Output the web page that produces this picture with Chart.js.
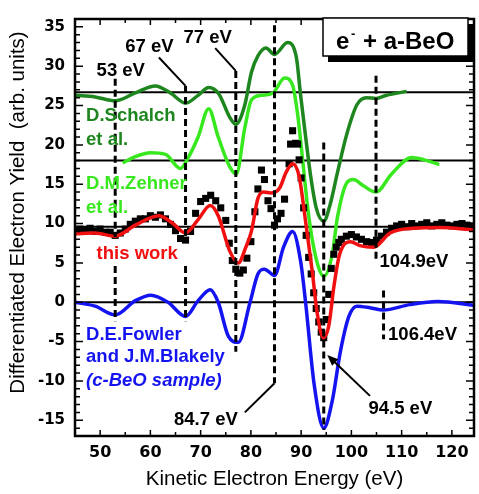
<!DOCTYPE html>
<html>
<head>
<meta charset="utf-8">
<script src="https://cdn.jsdelivr.net/npm/chart.js@4.4.1/dist/chart.umd.min.js"></script>
<style>
  html, body { margin: 0; padding: 0; background: #fff; }
  canvas { display: block; }
</style>
</head>
<body>
<canvas id="augerChart" width="479" height="494"></canvas>
<script>
// tick labels
const xTicks = [50, 60, 70, 80, 90, 100, 110, 120];
const yTicks = [-15, -10, -5, 0, 5, 10, 15, 20, 25, 30, 35];

// D.Schalch et al.
const schalchE = [45, 49, 53, 57, 61, 64, 67, 69.5, 71.6, 73.6, 75.8, 77, 78.8, 80.1, 81.4, 83, 84.7, 87.3, 89, 89.9, 90.9, 91.9, 93, 94.5, 95.8, 97.2, 99.1, 101.1, 103, 104.9, 107, 111];
const schalchY = [26.3, 26.1, 25.6, 26.6, 27.5, 26.6, 25.3, 26.3, 27.3, 26.5, 23.5, 22.6, 25.1, 29.2, 31.3, 32.3, 31.5, 33.0, 31.3, 26.3, 21.0, 16.0, 12.0, 10.3, 12.5, 16.4, 21.4, 25.1, 26.0, 25.9, 26.3, 26.8];

// D.M.Zehner et al.
const zehnerE = [54.5, 57, 60, 63, 66, 67.2, 69.5, 71.6, 73.5, 75.8, 77.1, 78.8, 80.1, 82.1, 84.4, 86.7, 88.3, 89.3, 90.3, 91.5, 93, 94.5, 96.2, 97.2, 99.1, 100.4, 102.4, 104.9, 108, 112, 114.5, 117.5];
const zehnerY = [17.7, 18.5, 19.0, 18.8, 17.0, 18.0, 21.0, 24.6, 21.0, 17.2, 16.3, 22.2, 25.7, 26.3, 26.6, 28.5, 27.6, 23.9, 18.1, 11.0, 5.5, 3.3, 6.1, 10.7, 15.2, 15.6, 14.8, 14.0, 16.3, 18.4, 18.1, 17.5];

// this work (fit)
const thisWorkE = [45, 49, 53, 57, 61.7, 64.5, 67, 69.5, 71.9, 73.5, 75.8, 77.5, 79, 80.1, 81.4, 82.5, 84, 85.7, 87, 88.3, 89.6, 90.9, 92.2, 93.2, 94.4, 95.5, 96.5, 97.5, 98.5, 99.8, 101.7, 104.4, 107.7, 112.3, 117.5, 124.4];
const thisWorkY = [8.7, 8.8, 8.4, 9.8, 11.0, 10.0, 8.8, 10.5, 12.3, 11.0, 6.5, 5.0, 7.0, 9.0, 13.2, 14.0, 13.9, 14.5, 16.5, 17.6, 16.0, 10.2, 4.0, -1.4, -4.5, -3.0, 1.9, 5.7, 7.3, 7.7, 7.2, 7.0, 8.8, 9.4, 9.5, 9.2];

// this work (measured points)
const measuredE = [45, 46, 47, 48, 49, 50, 51, 52, 53, 54, 55, 56, 57, 58, 59, 60, 61, 62, 63, 64, 65, 66, 67, 68, 69, 70, 71, 72, 73, 74, 75, 75.7, 76.3, 77, 77.8, 78.5, 79.2, 80, 80.8, 81.4, 82.1, 82.7, 83.4, 84, 84.7, 85.3, 86, 86.7, 87.6, 87.9, 88.3, 88.9, 89.3, 89.6, 90, 90.5, 91, 91.5, 92, 92.5, 93, 93.5, 94, 94.5, 95, 95.5, 96, 96.5, 97, 97.5, 98, 99, 100, 101, 102, 103, 104, 105, 106, 107, 108, 109, 110, 111, 112, 113, 114, 115, 116, 117, 118, 119, 120, 121, 122, 123, 124];
const measuredY = [9.0, 9.3, 9.1, 9.4, 9.0, 9.3, 8.9, 8.9, 8.5, 8.8, 9.3, 9.9, 10.3, 10.6, 10.6, 11.0, 10.8, 11.1, 10.6, 9.9, 9.1, 8.1, 7.9, 9.0, 11.3, 12.8, 13.2, 13.6, 12.9, 12.0, 10.4, 7.5, 5.3, 4.2, 3.7, 4.1, 5.6, 7.7, 11.5, 14.4, 16.8, 15.6, 12.9, 11.9, 9.8, 10.6, 11.3, 13.1, 17.6, 20.1, 21.8, 20.2, 20.1, 18.1, 15.8, 12.0, 8.5, 5.7, 3.6, 1.2, -0.8, -2.5, -3.8, -4.5, -2.2, 1.0, 4.3, 6.1, 7.0, 7.6, 8.0, 8.4, 8.6, 8.3, 8.0, 7.7, 7.6, 7.9, 8.4, 8.9, 9.4, 9.7, 9.9, 9.6, 10.0, 9.7, 9.9, 10.1, 9.7, 9.9, 10.1, 9.8, 9.7, 9.9, 10.0, 9.8, 9.7];

// D.E.Fowler and J.M.Blakely (c-BeO)
const fowlerE = [45, 49, 53, 57, 60.1, 63.5, 67, 69.5, 71.9, 73.5, 75.5, 77.5, 79.8, 81.4, 82.7, 84.7, 86.5, 88.3, 89.9, 90.9, 92.6, 94.5, 96.2, 97.8, 99.5, 101.1, 103.7, 106.3, 111.6, 117.2, 124.4];
const fowlerY = [0, -0.5, -1.6, 0.2, 0.9, 0.0, -1.8, 0.2, 1.6, 0.0, -4.3, -5.1, -0.1, 3.6, 4.2, 3.4, 7.0, 9.0, 5.2, -0.1, -10.5, -16.0, -12.5, -6.3, -1.8, -0.5, -0.7, -1.0, -0.3, 0.1, -0.4];

// zero levels of the offset spectra
const baselines = [0, 9.6, 18, 26.7];

// marked energies
const markerE = [53, 67, 77, 84.7, 94.5, 104.9, 106.4];
const markerText = ['53 eV', '67 eV', '77 eV', '84.7 eV', '94.5 eV', '104.9eV', '106.4eV'];

const DARK_GREEN = '#1e861e';
const LIGHT_GREEN = '#38e81e';
const RED = '#f01010';
const BLUE = '#1414f0';
const SANS = "'Liberation Sans', Arial, Helvetica, sans-serif";
const TICK_FONT = "'DejaVu Sans', sans-serif";

// where the dashed markers and their labels sit (value space)
const markerLayout = [
  { spans: [[28.4, 8.3], [4.6, -2.4]], label: [49.3, 29.4] },
  { spans: [[27.5, 8.3], [4.6, -2.4]], label: [55.0, 32.4], leader: [61.7, 31.1, 67, 27.5] },
  { spans: [[29.4, -6.3]], label: [66.6, 33.6], leader: [72.9, 32.3, 77, 29.4] },
  { spans: [[35.2, -10.3]], label: [64.7, -14.9], leader: [78.8, -14.0, 84.7, -10.3] },
  { spans: [[20.3, -16.2]], label: [103.4, -13.6], arrow: [103.7, -11.9, 95.2, -6.7] },
  { spans: [[28.8, 5.1]], label: [105.6, 5.1] },
  { spans: [[1.5, -4.7]], label: [107.3, -4.1] }
];

const seriesNotes = [
  { color: DARK_GREEN, x: 47.2, lines: [['D.Schalch', 23.7], ['et al.', 20.6]] },
  { color: LIGHT_GREEN, x: 47.2, lines: [['D.M.Zehner', 15.1], ['et al.', 12.0]] },
  { color: RED, x: 49.3, lines: [['this work', 6.1]] },
  { color: BLUE, x: 47.2, lines: [['D.E.Fowler', -4.1], ['and J.M.Blakely', -6.9], ['(c-BeO sample)', -10.0, true]] }
];

function pairs(xs, ys) {
  return xs.map((v, i) => ({ x: v, y: ys[i] }));
}

function curve(xs, ys, color) {
  return {
    data: pairs(xs, ys),
    showLine: true,
    borderColor: color,
    borderWidth: 3.5,
    pointRadius: 0,
    cubicInterpolationMode: 'monotone',
    fill: false
  };
}

const decor = {
  id: 'decor',
  beforeDatasetsDraw(chart) {
    const { ctx, chartArea: a, scales: { y } } = chart;
    ctx.save();
    ctx.strokeStyle = '#000';
    ctx.lineWidth = 2;
    baselines.forEach(v => {
      const py = y.getPixelForValue(v);
      ctx.beginPath();
      ctx.moveTo(a.left, py);
      ctx.lineTo(a.right, py);
      ctx.stroke();
    });
    ctx.restore();
  },
  afterDatasetsDraw(chart) {
    const { ctx, chartArea: a, scales: { x, y } } = chart;
    const px = v => x.getPixelForValue(v);
    const py = v => y.getPixelForValue(v);
    ctx.save();

    // dashed marker lines
    ctx.strokeStyle = '#000';
    ctx.lineWidth = 3;
    ctx.setLineDash([7, 4]);
    markerE.forEach((e, i) => {
      markerLayout[i].spans.forEach(([y0, y1]) => {
        ctx.beginPath();
        ctx.moveTo(px(e), py(y0));
        ctx.lineTo(px(e), py(y1));
        ctx.stroke();
      });
    });
    ctx.setLineDash([]);

    // leader lines and arrow
    ctx.lineWidth = 2;
    ctx.fillStyle = '#000';
    markerLayout.forEach(m => {
      if (m.leader) {
        const [x0, y0, x1, y1] = m.leader;
        ctx.beginPath();
        ctx.moveTo(px(x0), py(y0));
        ctx.lineTo(px(x1), py(y1));
        ctx.stroke();
      }
      if (m.arrow) {
        const [x0, y0, x1, y1] = m.arrow;
        const ax = px(x0), ay = py(y0), bx = px(x1), by = py(y1);
        const ang = Math.atan2(by - ay, bx - ax);
        ctx.beginPath();
        ctx.moveTo(ax, ay);
        ctx.lineTo(bx - 8 * Math.cos(ang), by - 8 * Math.sin(ang));
        ctx.stroke();
        ctx.beginPath();
        ctx.moveTo(bx, by);
        ctx.lineTo(bx - 11 * Math.cos(ang) + 4.5 * Math.sin(ang), by - 11 * Math.sin(ang) - 4.5 * Math.cos(ang));
        ctx.lineTo(bx - 11 * Math.cos(ang) - 4.5 * Math.sin(ang), by - 11 * Math.sin(ang) + 4.5 * Math.cos(ang));
        ctx.closePath();
        ctx.fill();
      }
    });

    // marker labels
    ctx.textBaseline = 'middle';
    ctx.textAlign = 'left';
    ctx.font = 'bold 18.5px ' + SANS;
    ctx.fillStyle = '#000';
    markerText.forEach((t, i) => {
      const [lx, ly] = markerLayout[i].label;
      ctx.fillText(t, px(lx), py(ly));
    });

    // series names
    seriesNotes.forEach(n => {
      ctx.fillStyle = n.color;
      n.lines.forEach(([t, ly, italic]) => {
        ctx.font = (italic ? 'italic ' : '') + 'bold 18.5px ' + SANS;
        ctx.fillText(t, px(n.x), py(ly));
      });
    });

    // frame
    ctx.strokeStyle = '#000';
    ctx.lineWidth = 2.5;
    ctx.strokeRect(a.left, a.top, a.right - a.left, a.bottom - a.top);

    // inward ticks on all four sides
    ctx.lineWidth = 1.5;
    ctx.beginPath();
    for (let v = xTicks[0] - 5; v <= x.max; v += 5) {
      if (v <= x.min) continue;
      const len = xTicks.includes(v) ? 6 : 4;
      const p = px(v);
      ctx.moveTo(p, a.bottom); ctx.lineTo(p, a.bottom - len);
      ctx.moveTo(p, a.top); ctx.lineTo(p, a.top + len);
    }
    for (let v = Math.ceil(y.min); v <= y.max; v++) {
      const len = yTicks.includes(v) ? 8 : 5;
      const p = py(v);
      ctx.moveTo(a.left, p); ctx.lineTo(a.left + len, p);
      ctx.moveTo(a.right, p); ctx.lineTo(a.right - len, p);
    }
    ctx.stroke();

    // y axis title
    ctx.save();
    ctx.translate(18, 212.5);
    ctx.rotate(-Math.PI / 2);
    ctx.textAlign = 'center';
    ctx.fillStyle = '#000';
    ctx.font = '20.5px ' + SANS;
    ctx.fillText('Differentiated Electron Yield  (arb. units)', 0, 0);
    ctx.restore();

    // title box with shadow
    const bx = a.right - 151, by = a.top - 1, bw = 145, bh = 38;
    ctx.fillStyle = '#000';
    ctx.fillRect(bx + 5, by + 6, bw, bh);
    ctx.fillStyle = '#fff';
    ctx.fillRect(bx, by, bw, bh);
    ctx.lineWidth = 1.5;
    ctx.strokeRect(bx, by, bw, bh);
    ctx.fillStyle = '#000';
    ctx.textBaseline = 'alphabetic';
    ctx.font = 'bold 24px ' + SANS;
    ctx.fillText('e', bx + 13, by + 31);
    ctx.font = 'bold 13px ' + SANS;
    ctx.fillText('-', bx + 28, by + 20);
    ctx.font = 'bold 24px ' + SANS;
    ctx.fillText('+ a-BeO', bx + 40, by + 31);

    ctx.restore();
  }
};

const ctx = document.getElementById('augerChart').getContext('2d');
const augerChart = new Chart(ctx, {
  type: 'scatter',
  data: {
    datasets: [
      curve(thisWorkE, thisWorkY, RED),
      {
        data: pairs(measuredE, measuredY),
        showLine: false,
        pointStyle: 'rect',
        pointRadius: 5,
        backgroundColor: '#000',
        borderWidth: 0
      },
      curve(fowlerE, fowlerY, BLUE),
      curve(zehnerE, zehnerY, LIGHT_GREEN),
      curve(schalchE, schalchY, DARK_GREEN)
    ]
  },
  options: {
    responsive: false,
    animation: false,
    devicePixelRatio: 1,
    layout: { padding: { top: 9, right: 1, left: 0, bottom: 0 } },
    plugins: { legend: { display: false }, tooltip: { enabled: false } },
    scales: {
      x: {
        type: 'linear',
        min: 45,
        max: 124.4,
        afterBuildTicks: s => { s.ticks = xTicks.map(v => ({ value: v })); },
        afterFit: s => { s.height = 58; },
        grid: { display: false, drawTicks: false },
        border: { display: false },
        ticks: {
          autoSkip: false,
          maxRotation: 0,
          padding: 7,
          color: '#000',
          font: { family: TICK_FONT, weight: 'bold', size: 16 }
        },
        title: {
          display: true,
          text: 'Kinetic Electron Energy (eV)',
          color: '#000',
          font: { family: SANS, size: 20.5, weight: 'normal' },
          padding: { top: 0, bottom: 2 }
        }
      },
      y: {
        type: 'linear',
        min: -17,
        max: 36,
        afterBuildTicks: s => { s.ticks = yTicks.map(v => ({ value: v })); },
        afterFit: s => { s.width = 75; },
        grid: { display: false, drawTicks: false },
        border: { display: false },
        ticks: {
          autoSkip: false,
          padding: 10,
          color: '#000',
          font: { family: TICK_FONT, weight: 'bold', size: 15 }
        }
      }
    }
  },
  plugins: [decor]
});
</script>
</body>
</html>
